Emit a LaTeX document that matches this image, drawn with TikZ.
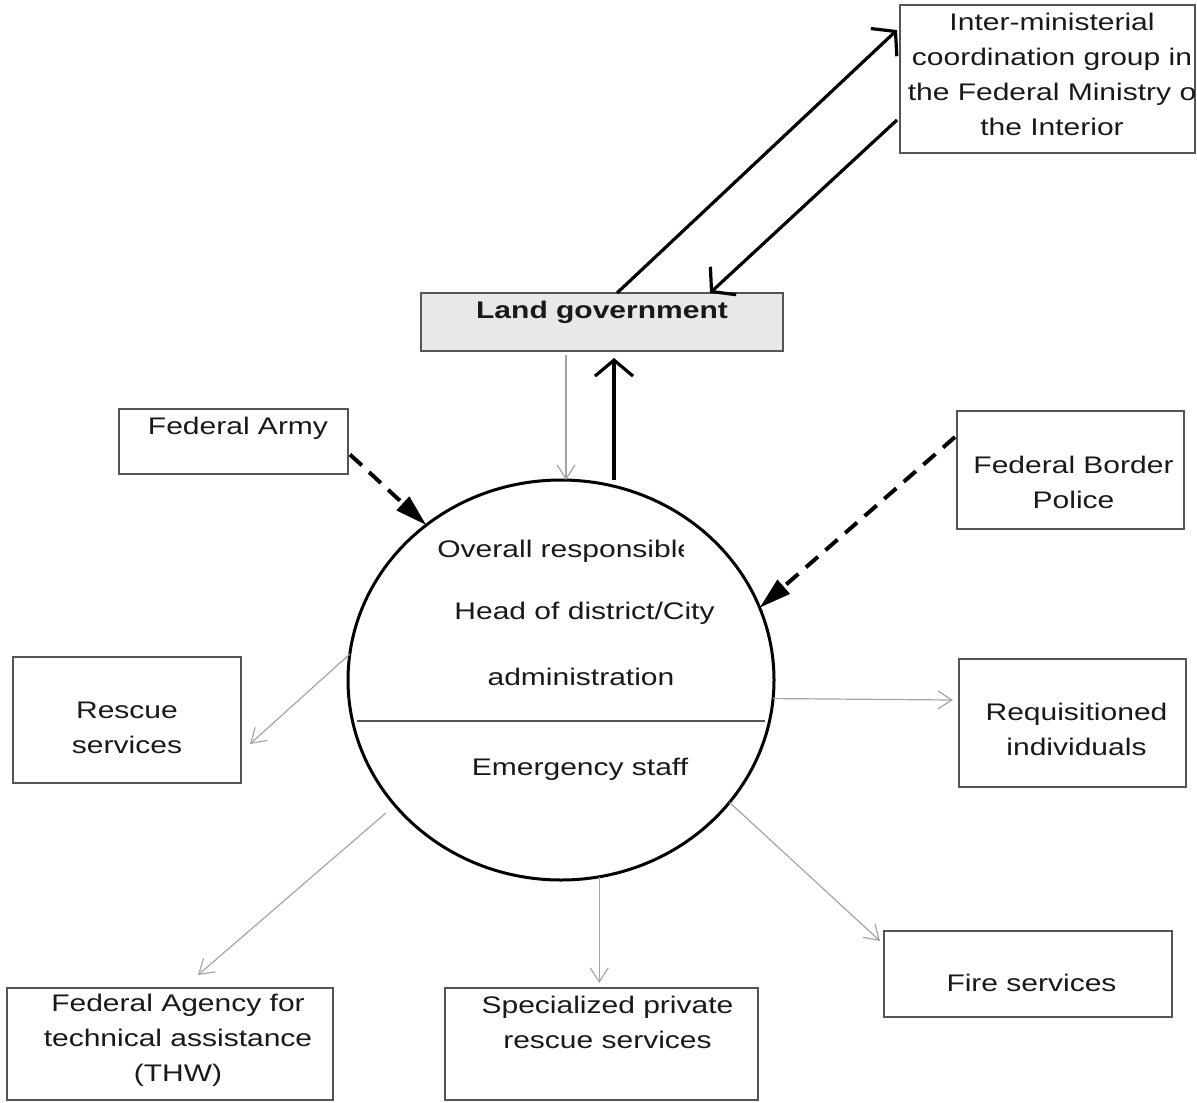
\documentclass[tikz,border=0pt]{standalone}
\usepackage{fontspec}
\setmainfont{Liberation Sans}[FakeStretch=1.25]
\usepackage{tikz}
\usetikzlibrary{arrows.meta,shapes.geometric}
\usepackage{xcolor}
\definecolor{boxline}{RGB}{85,85,85}
\definecolor{landfill}{RGB}{232,232,232}
\definecolor{thingray}{RGB}{165,165,165}
\definecolor{txtgray}{RGB}{25,25,25}
\tikzstyle{box} = [rectangle, draw=boxline, line width=1pt, inner sep=0pt, outer sep=0pt]
\tikzstyle{lbl} = [align=center, text=txtgray, font=\fontsize{12}{17.5}\selectfont, inner sep=0pt]
\tikzstyle{boldarrow} = [line width=1.6pt, -{Straight Barb[length=8pt,width=19pt]}]
\tikzstyle{dasharrow} = [line width=2pt, dash pattern=on 8pt off 5pt, -{Triangle[length=16pt,width=9pt]}]
\tikzstyle{thinarrow} = [thingray, line width=0.6pt, -{Straight Barb[length=7pt,width=9pt]}]

\begin{document}
\begin{tikzpicture}[x=0.5pt, y=-0.5pt]
\useasboundingbox (0,0) rectangle (1197,1102);

% boxes
\node (inter) [box, minimum width=147.5pt, minimum height=74pt] at (1047.5,79) {};
\node (intertext) [lbl] at (1052,74.5) {Inter-ministerial\\coordination group in\\the Federal Ministry o\\the Interior};
\node (land) [box, fill=landfill, minimum width=181pt, minimum height=29pt,
  label={[lbl, font=\bfseries\fontsize{12}{17.5}\selectfont, yshift=5pt]center:Land government}] at (602,322) {};
\node (army) [box, minimum width=114.5pt, minimum height=32.5pt,
  label={[lbl, xshift=2.25pt, yshift=6.75pt]center:Federal Army}] at (233.5,441.5) {};
\node (border) [box, minimum width=113.5pt, minimum height=59pt,
  label={[lbl, xshift=1.5pt, yshift=-6pt]center:Federal Border\\Police}] at (1070.5,470) {};
\node (rescue) [box, minimum width=114pt, minimum height=63pt,
  label={[lbl, yshift=-4pt]center:Rescue\\services}] at (127,720) {};
\node (req) [box, minimum width=113.5pt, minimum height=64pt,
  label={[lbl, xshift=2pt, yshift=-3pt]center:Requisitioned\\individuals}] at (1072.5,723) {};
\node (agency) [box, minimum width=163pt, minimum height=56pt,
  label={[lbl, xshift=4pt, yshift=2pt]center:Federal Agency for\\technical assistance\\(THW)}] at (170,1044) {};
\node (spec) [box, minimum width=156.5pt, minimum height=56pt,
  label={[lbl, xshift=3pt, yshift=11pt]center:Specialized private\\rescue services}] at (601.5,1044) {};
\node (fire) [box, minimum width=144pt, minimum height=43pt,
  label={[lbl, xshift=1.75pt, yshift=-4.5pt]center:Fire services}] at (1028,974) {};

% district staff
\node (staff) [ellipse, draw=black, line width=1.5pt, minimum width=213pt, minimum height=200pt, inner sep=0pt, outer sep=0pt] at (561,680) {};
\draw[boxline, line width=1pt, shorten <=2.5pt, shorten >=2.5pt] (staff.191) -- (staff.349);
\begin{scope}
\clip (437,525) rectangle (683,578);
\node (resp) [lbl, anchor=west] at (437,551) {Overall responsible};
\end{scope}
\node (head) [lbl] at (584.5,613) {Head of district/City};
\node (admin) [lbl] at (581,677) {administration};
\node (emerg) [lbl] at (580,769) {Emergency staff};

% connectors
\draw[boldarrow] ([xshift=7.5pt]land.north) -- ([shift={(-3,-49)}]inter.west);
\draw[boldarrow] ([shift={(-3,41)}]inter.west) -- ([xshift=54pt]land.north);
\draw[boldarrow, shorten >=3.5pt] ([xshift=6pt]land.south |- staff.north) -- ([xshift=6pt]land.south);
\draw[thinarrow, shorten <=2pt] ([xshift=-18pt]land.south) -- ([xshift=-18pt]land.south |- staff.north);

\draw[dasharrow] ([shift={(2,13)}]army.east) -- (staff.131);
\draw[dasharrow] ([shift={(-2,-33)}]border.west) -- (staff.20);

\draw[thinarrow] (staff.173) -- ([shift={(9,24)}]rescue.east);
\draw[thinarrow] (staff.355) -- ([shift={(-6,-23)}]req.west);
\draw[thinarrow, shorten <=6pt] (staff.217) -- ([shift={(28,-13)}]agency.north);
\draw[thinarrow, shorten >=2.5pt] (staff.281) -- (staff.281 |- spec.north);
\draw[thinarrow] (staff.324) -- ([shift={(-4,10)}]fire.north west);
\end{tikzpicture}
\end{document}
